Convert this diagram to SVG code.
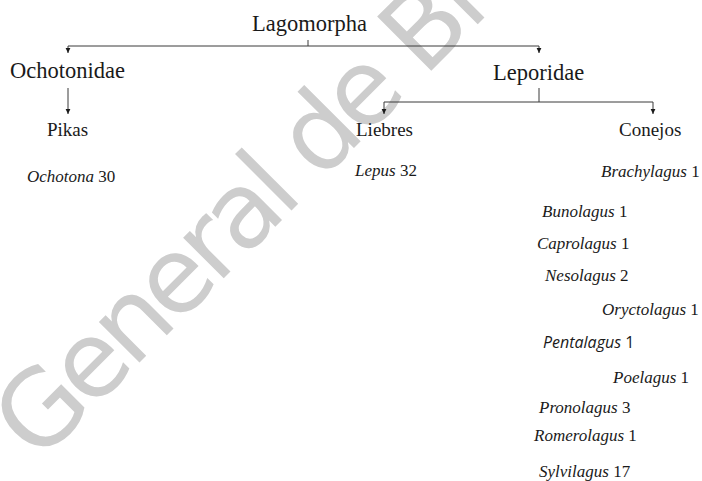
<svg xmlns="http://www.w3.org/2000/svg" width="702" height="481" viewBox="0 0 702 481">
<style>
.serif{font-family:"Liberation Serif","Times New Roman",serif;fill:#1a1a1a}
.big{font-size:22.5px}
.mid{font-size:19px}
.sp{font-size:17px}
.it{font-style:italic}
.sans{font-family:"Open Sans","Noto Sans",sans-serif;fill:#1a1a1a;font-size:16px}
.wm{font-family:"DejaVu Sans",Verdana,sans-serif;font-size:105px;letter-spacing:-6px;fill:#cdcdcd}
.conn{fill:none;stroke:#3a3a3a;stroke-width:1}
</style>
<defs>
<marker id="ah" markerWidth="6" markerHeight="6" refX="5" refY="3" orient="auto" markerUnits="userSpaceOnUse">
<path d="M0,0.6 L5,3 L0,5.4 z" fill="#1a1a1a"/>
</marker>
</defs>
<rect width="702" height="481" fill="#ffffff"/>
<g id="watermark">
<text class="wm" transform="translate(38,464) rotate(-45)">General de Bi</text>
</g>
<g id="connectors">
<path class="conn" d="M308,40 V46 H68 V53" marker-end="url(#ah)"/>
<path class="conn" d="M308,46 H539 V53" marker-end="url(#ah)"/>
<path class="conn" d="M68,88 V114" marker-end="url(#ah)"/>
<path class="conn" d="M539,88 V102 H384 V114" marker-end="url(#ah)"/>
<path class="conn" d="M539,102 H653 V114" marker-end="url(#ah)"/>
</g>
<g id="lagomorpha"><text class="serif big" x="252" y="31">Lagomorpha</text></g>
<g id="ochotonidae"><text class="serif big" x="10" y="78">Ochotonidae</text></g>
<g id="leporidae"><text class="serif big" x="493" y="80">Leporidae</text></g>
<g id="pikas"><text class="serif mid" x="47" y="136">Pikas</text></g>
<g id="liebres"><text class="serif mid" x="356" y="136">Liebres</text></g>
<g id="conejos"><text class="serif mid" x="619" y="136">Conejos</text></g>
<g id="ochotona"><text class="serif sp" x="27" y="182"><tspan class="it">Ochotona</tspan> 30</text></g>
<g id="lepus"><text class="serif sp" x="355" y="176"><tspan class="it">Lepus</tspan> 32</text></g>
<g id="brachylagus"><text class="serif sp" x="601" y="177"><tspan class="it">Brachylagus</tspan> 1</text></g>
<g id="bunolagus"><text class="serif sp" x="542" y="217"><tspan class="it">Bunolagus</tspan> 1</text></g>
<g id="caprolagus"><text class="serif sp" x="537" y="249"><tspan class="it">Caprolagus</tspan> 1</text></g>
<g id="nesolagus"><text class="serif sp" x="545" y="281"><tspan class="it">Nesolagus</tspan> 2</text></g>
<g id="oryctolagus"><text class="serif sp" x="602" y="315"><tspan class="it">Oryctolagus</tspan> 1</text></g>
<g id="pentalagus"><text class="sans" x="543" y="348"><tspan class="it">Pentalagus</tspan> 1</text></g>
<g id="poelagus"><text class="serif sp" x="613" y="383"><tspan class="it">Poelagus</tspan> 1</text></g>
<g id="pronolagus"><text class="serif sp" x="539" y="413"><tspan class="it">Pronolagus</tspan> 3</text></g>
<g id="romerolagus"><text class="serif sp" x="534" y="441"><tspan class="it">Romerolagus</tspan> 1</text></g>
<g id="sylvilagus"><text class="serif sp" x="539" y="477"><tspan class="it">Sylvilagus</tspan> 17</text></g>
</svg>
